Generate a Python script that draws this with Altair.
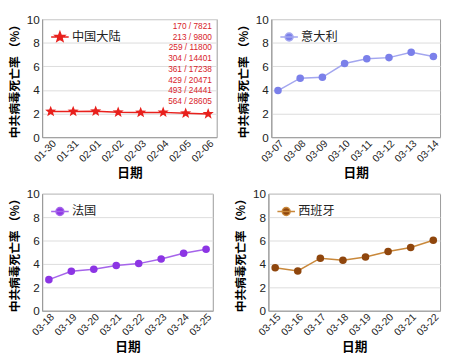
import math
import altair as alt
import pandas as pd

# ---------------- data ----------------
china_dates = ["01-30", "01-31", "02-01", "02-02", "02-03", "02-04", "02-05", "02-06"]
china_deaths = [170, 213, 259, 304, 361, 429, 493, 564]
china_cases = [7821, 9800, 11800, 14401, 17238, 20471, 24441, 28605]
china_rate = [2.17, 2.17, 2.19, 2.11, 2.09, 2.10, 2.02, 1.97]

italy_dates = ["03-07", "03-08", "03-09", "03-10", "03-11", "03-12", "03-13", "03-14"]
italy_rate = [3.95, 5.0, 5.07, 6.24, 6.64, 6.74, 7.19, 6.83]

france_dates = ["03-18", "03-19", "03-20", "03-21", "03-22", "03-23", "03-24", "03-25"]
france_rate = [2.66, 3.37, 3.55, 3.87, 4.03, 4.42, 4.92, 5.26]

spain_dates = ["03-15", "03-16", "03-17", "03-18", "03-19", "03-20", "03-21", "03-22"]
spain_rate = [3.68, 3.40, 4.49, 4.31, 4.60, 5.07, 5.40, 6.03]

Y_TITLE = "中共病毒死亡率 （%）"
X_TITLE = "日期"

CJK = "Noto Sans CJK SC"
LAT = "Liberation Sans"


def star_only(r_out=1.0, r_in=0.42):
    pts = []
    for i in range(10):
        r = r_out if i % 2 == 0 else r_in
        a = -math.pi / 2 + i * math.pi / 5
        pts.append((r * math.cos(a), r * math.sin(a)))
    return "M" + " L".join(f"{x:.3f},{y:.3f}" for x, y in pts) + " Z"


def star_legend(line=2.0):
    return f"M{-line},0 L{line},0 " + star_only(1.15, 0.48)


def circle_legend(r=0.9, line=2.0):
    return (f"M{-line},0 L{line},0 M{r},0 A{r},{r} 0 1,1 {-r},0 "
            f"A{r},{r} 0 1,1 {r},0 Z")


def panel(dates, rate, name, color, linecolor, shape, size, legsym, w, h,
          pad, annot=None):
    df = pd.DataFrame({"date": dates, "rate": rate, "country": name})
    x = alt.X("date:O", scale=alt.Scale(type="point", padding=pad),
              axis=alt.Axis(title=X_TITLE, labelAngle=-45, ticks=False,
                            grid=False, labelFontSize=10.5, labelFont=LAT,
                            labelColor="#222", titleFont=CJK,
                            titleFontSize=13, titleFontWeight="bold",
                            titlePadding=3, labelPadding=1,
                            domainColor="#999"))
    y = alt.Y("rate:Q", scale=alt.Scale(domain=[0, 10]),
              axis=alt.Axis(title=Y_TITLE, values=[0, 2, 4, 6, 8, 10],
                            ticks=False, grid=True, gridColor="#dcdcdc",
                            labelFontSize=12, labelFont=LAT,
                            labelColor="#222", titleFont=CJK,
                            titleFontSize=12, titleFontWeight="bold",
                            titlePadding=5, labelPadding=3,
                            domainColor="#999"))
    base = alt.Chart(df).encode(x=x, y=y)
    line = base.mark_line(color=linecolor, strokeWidth=1.5)
    pts = base.mark_point(filled=True, shape=shape, size=size,
                          opacity=1).encode(
        color=alt.Color("country:N", scale=alt.Scale(range=[color]),
                        legend=alt.Legend(
                            title=None, orient="top-left", offset=12,
                            padding=0, symbolType=legsym, symbolSize=81,
                            symbolStrokeColor=linecolor,
                            symbolStrokeWidth=1.5, symbolFillColor=color,
                            labelFont=CJK, labelFontSize=12.5,
                            labelColor="#222", labelOffset=6)))
    layers = [line, pts]
    if annot is not None:
        tdf = pd.DataFrame({"t": ["\n".join(annot)]})
        txt = alt.Chart(tdf).mark_text(
            lineBreak="\n", align="right", baseline="top", fontSize=8.5,
            lineHeight=11, color="#d8232a", font=LAT).encode(
            text="t:N", x=alt.value(w - 5), y=alt.value(3))
        layers.append(txt)
    return alt.layer(*layers).resolve_scale(color="independent").properties(
        width=w, height=h)


annot = [f"{d} / {c}" for d, c in zip(china_deaths, china_cases)]

p1 = panel(china_dates, china_rate, "中国大陆", "#e8201c", "#e8201c",
           star_only(), 144, star_legend(), 179, 121, 0.38, annot)
p2 = panel(italy_dates, italy_rate, "意大利", "#7b80ea", "#a3a6ef",
           "circle", 60, circle_legend(), 173, 121, 0.3)
p3 = panel(france_dates, france_rate, "法国", "#8c35e4", "#a564ea",
           "circle", 60, circle_legend(), 175, 120, 0.3)
p4 = panel(spain_dates, spain_rate, "西班牙", "#8f460d", "#c9883a",
           "circle", 60, circle_legend(), 176, 120, 0.3)

chart = alt.vconcat(
    alt.hconcat(p1, p2, spacing=20).resolve_scale(color="independent"),
    alt.hconcat(p3, p4, spacing=20).resolve_scale(color="independent"),
    spacing=7,
).resolve_scale(color="independent").properties(
    padding={"left": 0, "top": 0, "right": 0, "bottom": 0}).configure_view(
    stroke="#999", strokeWidth=1)

chart.save("out.html", embed_options={"renderer": "svg", "actions": False})
